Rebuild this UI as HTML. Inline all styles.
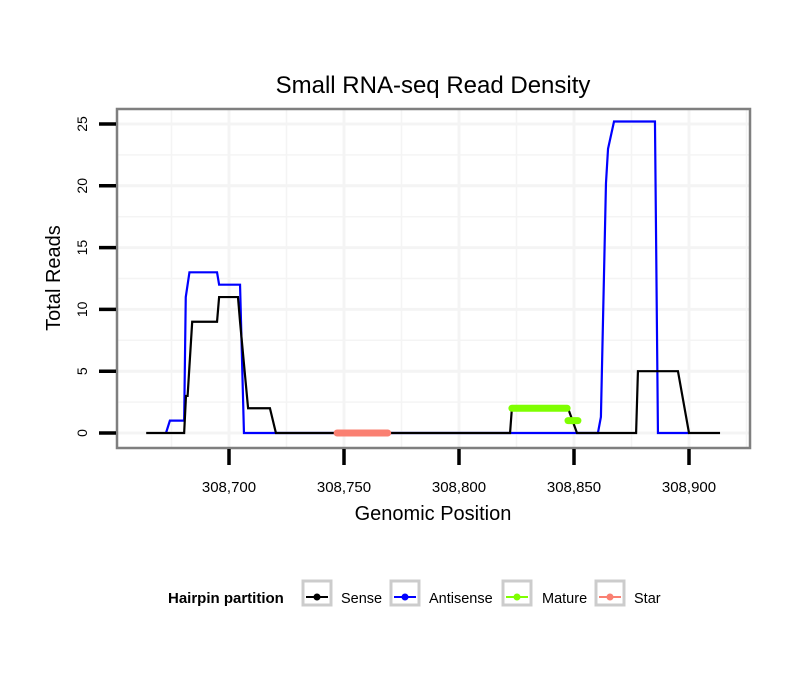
<!DOCTYPE html>
<html><head><meta charset="utf-8"><style>
body{margin:0;background:#fff;}
svg{display:block;font-family:"Liberation Sans",sans-serif;}
</style></head><body>
<svg id="chart" width="810" height="690">
<defs><clipPath id="pc"><rect x="117" y="109" width="633" height="339"/></clipPath></defs>
<rect width="810" height="690" fill="#fff"/>
<text x="433" y="93" text-anchor="middle" font-size="24">Small RNA-seq Read Density</text>
<rect x="117" y="109" width="633" height="339" fill="#fff"/>
<g id="grid" clip-path="url(#pc)"></g>
<g id="series" clip-path="url(#pc)"></g>
<rect x="117" y="109" width="633" height="339" fill="none" stroke="#7f7f7f" stroke-width="2.5"/>
<g id="axes"></g>
<text x="433" y="520" text-anchor="middle" font-size="20">Genomic Position</text>
<text transform="translate(60,278) rotate(-90)" text-anchor="middle" font-size="20">Total Reads</text>
<g>
<text x="168" y="603" font-size="15" font-weight="bold">Hairpin partition</text>
<g><rect x="303" y="581" width="28" height="24" fill="#fff" stroke="#cccccc" stroke-width="3"/><line x1="306" y1="597" x2="328" y2="597" stroke="#000" stroke-width="2"/><circle cx="317" cy="597" r="3.5" fill="#000"/><text x="341" y="603" font-size="14.5">Sense</text></g>
<g><rect x="391" y="581" width="28" height="24" fill="#fff" stroke="#cccccc" stroke-width="3"/><line x1="394" y1="597" x2="416" y2="597" stroke="#0000ff" stroke-width="2"/><circle cx="405" cy="597" r="3.5" fill="#0000ff"/><text x="429" y="603" font-size="14.5">Antisense</text></g>
<g><rect x="503" y="581" width="28" height="24" fill="#fff" stroke="#cccccc" stroke-width="3"/><line x1="506" y1="597" x2="528" y2="597" stroke="#7fff00" stroke-width="2"/><circle cx="517" cy="597" r="3.5" fill="#7fff00"/><text x="542" y="603" font-size="14.5">Mature</text></g>
<g><rect x="596" y="581" width="28" height="24" fill="#fff" stroke="#cccccc" stroke-width="3"/><line x1="599" y1="597" x2="621" y2="597" stroke="#fa8072" stroke-width="2"/><circle cx="610" cy="597" r="3.5" fill="#fa8072"/><text x="634" y="603" font-size="14.5">Star</text></g>
</g>
</svg>
<script>
const xTicks = [308700, 308750, 308800, 308850, 308900];
const xTickLabels = ["308,700", "308,750", "308,800", "308,850", "308,900"];
const yTicks = [0, 5, 10, 15, 20, 25];
const senseX = [308664, 308680.5, 308681.3, 308682, 308684, 308694.8, 308695.7, 308703.9, 308704.8, 308708.3, 308717.8, 308719.1, 308720.4, 308822.2, 308823, 308847.4, 308851.3, 308877, 308877.8, 308895.2, 308900, 308913.5];
const senseY = [0, 0, 3, 3, 9, 9, 11, 11, 9, 2, 2, 1, 0, 0, 2, 2, 0, 0, 5, 5, 0, 0];
const antiX = [308672.6, 308674.3, 308680.5, 308681.2, 308682.8, 308694.8, 308695.7, 308704.8, 308706.5, 308860.4, 308861.7, 308863.9, 308864.8, 308867.4, 308885.2, 308886.5, 308900];
const antiY = [0, 1, 1, 11, 13, 13, 12, 12, 0, 0, 1.3, 20.2, 23, 25.2, 25.2, 0, 0];
const matureX = [308823, 308847, 308847.4, 308851.7];
const matureY = [2, 2, 1, 1];
const starX = [308747, 308769];
const starY = [0, 0];

const NS = "http://www.w3.org/2000/svg";
const xs = v => 229 + (v - 308700) * 2.3;
const ys = v => 433 - v * 12.36;
function mk(tag, attrs, parent) {
  const e = document.createElementNS(NS, tag);
  for (const k in attrs) e.setAttribute(k, attrs[k]);
  parent.appendChild(e);
  return e;
}
const grid = document.getElementById("grid");
const axes = document.getElementById("axes");
const series = document.getElementById("series");
for (let v = 308675; v <= 308925; v += 25) {
  const g = mk("line", {x1: xs(v), x2: xs(v), y1: 109, y2: 448, stroke: "#f4f4f4", "stroke-width": (v % 50 === 0) ? 3 : 1.5}, grid);
  
  
}
for (let v = -2.5; v <= 27.5; v += 2.5) {
  const g = mk("line", {x1: 117, x2: 750, y1: ys(v), y2: ys(v), stroke: "#f4f4f4", "stroke-width": (v % 5 === 0) ? 3 : 1.5}, grid);
  
  
}
xTicks.forEach((v, i) => {
  const t = mk("line", {x1: xs(v), x2: xs(v), y1: 449, y2: 465, stroke: "#000", "stroke-width": 3.5}, axes);
  
  
  const l = mk("text", {x: xs(v), y: 492, "text-anchor": "middle", "font-size": 15}, axes);
  l.textContent = xTickLabels[i];
  
  
});
yTicks.forEach(v => {
  const t = mk("line", {x1: 99, x2: 116, y1: ys(v), y2: ys(v), stroke: "#000", "stroke-width": 3.5}, axes);
  
  
  const l = mk("text", {transform: `translate(87,${ys(v)}) rotate(-90)`, "text-anchor": "middle", "font-size": 14}, axes);
  l.textContent = String(v);
  
  
});
function pts(X, Y) { return X.map((x, i) => xs(x) + "," + ys(Y[i])).join(" "); }
const a = mk("polyline", {points: pts(antiX, antiY), fill: "none", stroke: "#0000ff", "stroke-width": 2.2}, series);


const s = mk("polyline", {points: pts(senseX, senseY), fill: "none", stroke: "#000", "stroke-width": 2.2}, series);


function thick(X, Y, color, name) {
  const p = mk("polyline", {points: pts(X, Y), fill: "none", stroke: color, "stroke-width": 7, "stroke-linecap": "round"}, series);
  
  
}
thick(matureX.slice(0, 2), matureY.slice(0, 2), "#7fff00", "mature-series");
thick(matureX.slice(2), matureY.slice(2), "#7fff00", "mature-series-tail");
thick(starX, starY, "#fa8072", "star-series");
</script>
</body></html>
